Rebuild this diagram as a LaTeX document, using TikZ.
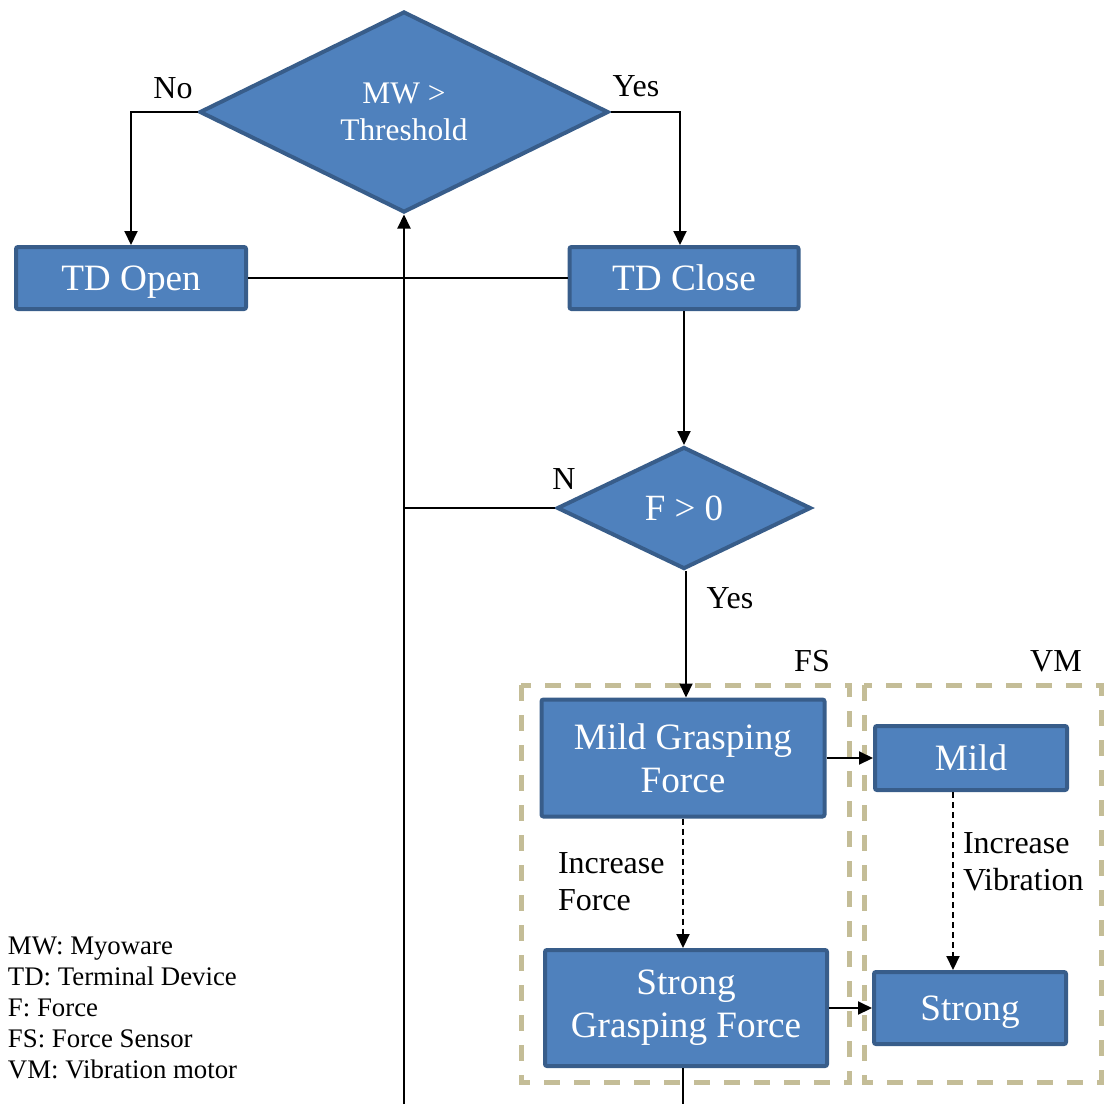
\documentclass[tikz,border=0pt]{standalone}
\usepackage{fontspec}
\setmainfont{Liberation Serif}
\usetikzlibrary{shapes.geometric,arrows.meta}

\definecolor{boxfill}{RGB}{79,129,189}
\definecolor{boxline}{RGB}{56,93,138}
\definecolor{grouptan}{RGB}{196,189,151}

\tikzset{every picture/.style={line width=1pt}}
\tikzset{
  procbox/.style={draw=boxline, fill=boxfill, line width=2pt, rounded corners=1pt, inner sep=0pt, text=white, align=center, font=\fontsize{18.6}{21.5}\selectfont},
  onebox/.style={procbox, text height=13pt, text depth=1pt},
  decision/.style={diamond, draw=boxline, fill=boxfill, line width=2pt, inner sep=0pt, aspect=2, text=white, align=center},
  groupbox/.style={draw=grouptan, line width=2.5pt, dash pattern={on 8pt off 7pt}},
  flow/.style={-{Triangle[length=7pt,width=6.5pt]}},
  dflow/.style={flow, dash pattern={on 3pt off 2pt}},
  lbl/.style={inner sep=0pt, font=\fontsize{16}{18.5}\selectfont}
}

\begin{document}
\begin{tikzpicture}[x=0.5pt,y=0.5pt,yscale=-1,xscale=1]
				\useasboundingbox (0,0) rectangle (1109,1104);
				
				%Group boxes
				\draw [groupbox] (521,685) rectangle (849,1082);
				\draw [groupbox] (864,685) rectangle (1101,1082);
				
				%Decisions
				\node [decision, minimum width=204.5pt, minimum height=100.5pt, font=\fontsize{15.7}{18.5}\selectfont] (mw) at (404,112) {MW >\\Threshold};
				\node [decision, minimum width=127pt, minimum height=61pt, font=\fontsize{18.5}{21}\selectfont] (fdec) at (684,508) {F > 0};
				
				%Processes
				\node [onebox, minimum width=115pt, minimum height=31pt] (open) at (131,278) {TD Open};
				\node [onebox, minimum width=114.5pt, minimum height=31pt] (close) at (684,278) {TD Close};
				\node [procbox, minimum width=141.5pt, minimum height=58.5pt] (mildg) at (683,758) {Mild Grasping\\Force};
				\node [procbox, minimum width=141pt, minimum height=58pt] (strongg) at (686,1008) {Strong\\Grasping Force};
				\node [onebox, minimum width=96pt, minimum height=32pt] (mild) at (971,758) {Mild};
				\node [onebox, minimum width=96pt, minimum height=36pt] (strong) at (970,1008) {Strong};
				
				%Free ends
				\coordinate (loopbot) at (404,1104);
				\coordinate (njoin) at (404,508);
				\coordinate (outbot) at (683,1104);
				
				%Connectors
				\draw [flow] (mw.west) -| (open.north);
				\draw [flow] (mw.east) -| ([xshift=-2pt]close.north);
				\draw (open.east) -- (close.west);
				\draw [flow] (close.south) -- (fdec.north);
				\draw (fdec.west) -- (njoin);
				\draw [flow] (loopbot) -- (mw.south);
				\draw [flow] ([xshift=1pt]fdec.south) -- ([xshift=1pt]fdec.south |- mildg.north);
				\draw [dflow] (mildg.south) -- (strongg.north -| mildg.south);
				\draw [flow] (mildg.east) -- (mild.west);
				\draw [flow] (strongg.east) -- (strong.west);
				\draw [dflow] ([xshift=-9pt]mild.south) -- ([xshift=-9pt]mild.south |- strong.north);
				\draw (strongg.south -| outbot) -- (outbot);
				
				%Labels
				\node [lbl] (lno) at (173,88) {No};
				\node [lbl] (lyes) at (636,86) {Yes};
				\node [lbl] (ln) at (564,479) {N};
				\node [lbl] (lyes2) at (730,598) {Yes};
				\node [lbl] (lfs) at (812,661) {FS};
				\node [lbl] (lvm) at (1056,661) {VM};
				\node [lbl, anchor=west, align=left] (lforce) at (557,882) {Increase\\Force};
				\node [lbl, anchor=west, align=left] (lvib) at (962,862) {Increase\\Vibration};
				
				%Legend
				\node [inner sep=0pt, anchor=west, align=left, font=\fontsize{13.4}{15.5}\selectfont] (legend) at (7,1008) {MW: Myoware\\TD: Terminal Device\\F: Force\\FS: Force Sensor\\VM: Vibration motor};
\end{tikzpicture}
\end{document}
